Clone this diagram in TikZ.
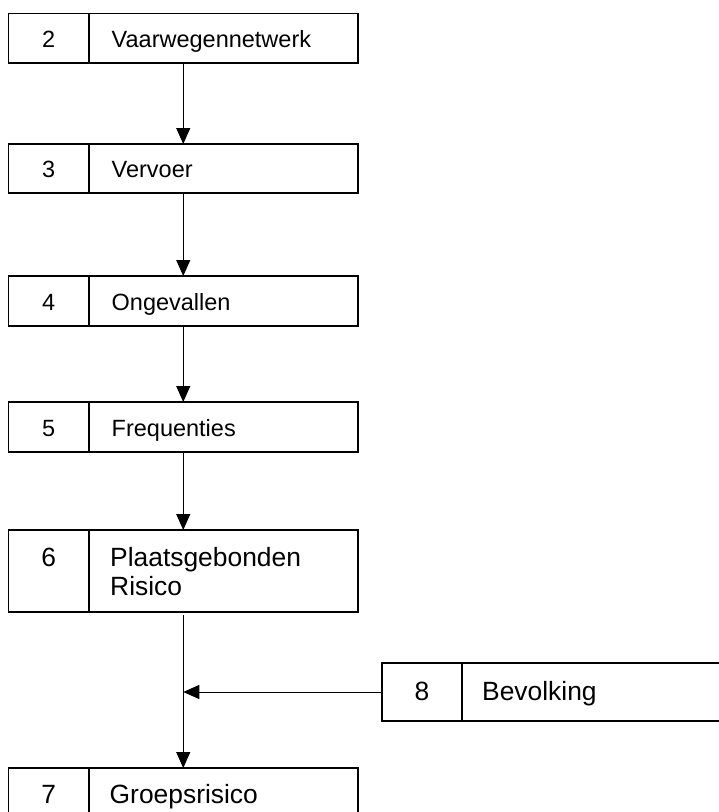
\documentclass[tikz,border=0pt]{standalone}
\usepackage{fontspec}
\setmainfont{Liberation Sans}
\usetikzlibrary{arrows.meta,calc}
\tikzset{
  flowbox/.style={draw, line width=1.3pt, minimum width=349.5pt, inner sep=0pt, outer sep=0pt},
  smallfont/.style={font=\fontsize{23.5}{26}\selectfont},
  bigfont/.style={font=\fontsize{26.4}{29}\selectfont},
  numlbl/.style={inner sep=0pt, anchor=base},
  txtlbl/.style={inner sep=0pt, anchor=base west},
  divider/.style={line width=1.3pt},
  arr/.style={line width=1pt, -{Triangle[length=16pt,width=14pt]}}
}
\begin{document}
\begin{tikzpicture}[x=1pt,y=-1pt]
\useasboundingbox (0,0) rectangle (719,812);
\clip (0,0) rectangle (719,812);
% boxes
\node[flowbox, minimum height=49.5pt] (b2) at (183.25,38.25) {};
\node[flowbox, minimum height=49pt] (b3) at (183.25,168.5) {};
\node[flowbox, minimum height=50pt] (b4) at (183.25,301) {};
\node[flowbox, minimum height=50pt] (b5) at (183.25,427) {};
\node[flowbox, minimum height=82pt] (b6) at (183.25,571) {};
\node[flowbox, minimum height=52pt] (b7) at (183.25,794) {};
\node[flowbox, minimum width=380pt, minimum height=58pt] (b8) at (572,692) {};
% dividers
\foreach \b in {b2,b3,b4,b5,b6,b7}{
  \draw[divider] ($(\b.north west)+(80.5,0)$) -- ($(\b.south west)+(80.5,0)$);
}
\draw[divider] ($(b8.north west)+(80,0)$) -- ($(b8.south west)+(80,0)$);
% numbers and labels
\node[numlbl, smallfont] (n2) at ($(b2.west)+(40.25,9)$) {2};
\node[txtlbl, smallfont] (t2) at ($(b2.west)+(103,9)$) {Vaarwegennetwerk};
\node[numlbl, smallfont] (n3) at ($(b3.west)+(40.25,9)$) {3};
\node[txtlbl, smallfont] (t3) at ($(b3.west)+(103,9)$) {Vervoer};
\node[numlbl, smallfont] (n4) at ($(b4.west)+(40.25,9)$) {4};
\node[txtlbl, smallfont] (t4) at ($(b4.west)+(103,9)$) {Ongevallen};
\node[numlbl, smallfont] (n5) at ($(b5.west)+(40.25,9)$) {5};
\node[txtlbl, smallfont] (t5) at ($(b5.west)+(103,9)$) {Frequenties};
\node[numlbl, bigfont] (n6) at (48.75,566) {6};
\node[txtlbl, bigfont] (t6a) at (110,566) {Plaatsgebonden};
\node[txtlbl, bigfont] (t6b) at (110,595) {Risico};
\node[numlbl, bigfont] (n7) at ($(b7.west)+(40.25,9)$) {7};
\node[txtlbl, bigfont] (t7) at ($(b7.west)+(101,9)$) {Groepsrisico};
\node[numlbl, bigfont] (n8) at ($(b8.west)+(40,8.5)$) {8};
\node[txtlbl, bigfont] (t8) at ($(b8.west)+(100,8.5)$) {Bevolking};
% connectors
\draw[arr] (b2.south) -- (b3.north);
\draw[arr] (b3.south) -- (b4.north);
\draw[arr] (b4.south) -- (b5.north);
\draw[arr] (b5.south) -- (b6.north);
\draw[arr] ([yshift=-3pt]b6.south) -- (b7.north);
\draw[arr] (b8.west) -- (b6.south |- b8.west);
\end{tikzpicture}
\end{document}
